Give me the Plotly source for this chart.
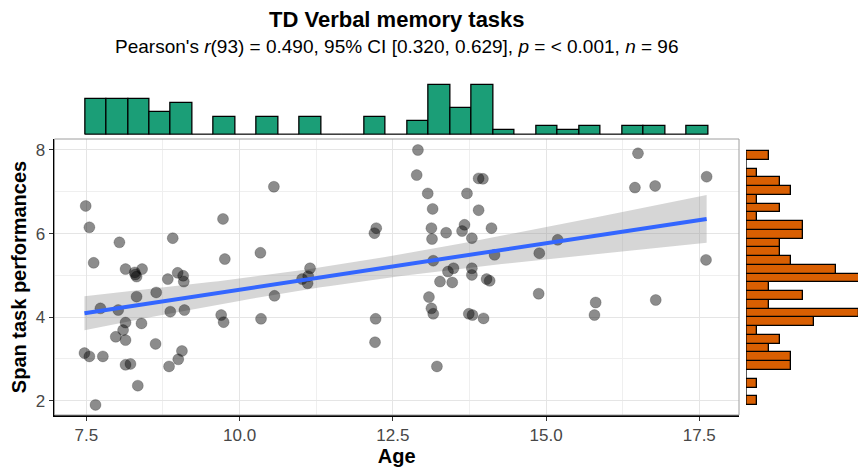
import numpy as np
import plotly.graph_objects as go

# ---------------- data ----------------
age = [7.49, 7.55, 8.04, 8.91, 7.62, 8.14, 8.29, 8.32, 8.41, 8.30,
       8.83, 8.99, 9.08, 9.09, 9.73, 9.76, 10.56, 10.34, 8.32, 8.64,
       7.73, 8.02, 8.87, 9.10, 9.70, 9.74, 10.57, 10.35, 8.14, 8.40,
       8.10, 7.98, 8.14, 8.63, 7.47, 7.55, 7.77, 8.14, 8.22, 8.85,
       9.00, 9.06, 8.34, 7.65,
       11.15, 11.02, 11.11, 11.12, 12.23, 12.20, 12.22, 12.21, 12.91, 12.89,
       13.07, 13.15, 13.13, 13.14, 13.37, 13.67, 13.63, 13.79, 13.71, 13.90,
       13.97, 13.90, 14.11, 14.16, 13.16, 13.40, 13.49, 13.27, 13.47, 13.79,
       13.79, 14.03, 14.08, 13.09, 13.13, 13.16, 13.74, 13.80, 13.98, 13.22,
       16.50, 16.45, 16.78, 17.62, 15.19, 14.89, 14.88, 15.81, 15.79, 16.79,
       17.61]
span = [6.66, 6.15, 5.79, 5.89, 5.30, 5.15, 5.07, 4.97, 5.15, 5.02,
        4.91, 5.06, 4.99, 4.85, 6.35, 5.39, 7.12, 5.54, 4.49, 4.59,
        4.21, 4.17, 4.13, 4.17, 4.05, 3.88, 4.51, 3.96, 3.87, 3.85,
        3.69, 3.53, 3.45, 3.36, 3.14, 3.06, 3.06, 2.86, 2.88, 2.82,
        2.99, 3.19, 2.36, 1.90,
        5.17, 4.91, 4.81, 4.98, 6.13, 6.01, 3.96, 3.40, 8.00, 7.40,
        6.96, 6.59, 6.13, 5.87, 6.02, 6.21, 6.06, 5.89, 6.96, 7.32,
        7.31, 6.56, 6.13, 5.49, 5.35, 5.09, 5.17, 4.85, 4.83, 5.17,
        5.01, 4.91, 4.87, 4.48, 4.21, 4.08, 4.08, 4.05, 3.97, 2.82,
        7.92, 7.10, 7.14, 7.36, 5.85, 5.53, 4.56, 4.35, 4.05, 4.41,
        5.37]

# marginal histogram of Age (29 bins)
age_bin_start = 7.479
age_bin_width = 0.3506
age_counts = [8, 8, 8, 5, 7, 0, 4, 0, 4, 0, 4, 0, 0, 4, 0, 3, 11, 6, 11, 1,
              0, 2, 1, 2, 0, 2, 2, 0, 2]

# marginal histogram of span (29 bins, bottom to top)
span_bin_start = 1.897
span_bin_width = 0.2095
span_counts = [1, 0, 1, 0, 4, 4, 2, 3, 1, 6, 10, 2, 5, 2, 11, 8, 4, 3, 3, 5,
               5, 1, 3, 1, 4, 3, 1, 0, 2]

x_ticks = [7.5, 10.0, 12.5, 15.0, 17.5]
x_tick_labels = ["7.5", "10.0", "12.5", "15.0", "17.5"]
y_ticks = [2, 4, 6, 8]

title = "<b>TD Verbal memory tasks</b>"
subtitle = ("Pearson's <i>r</i>(93) = 0.490, 95% CI [0.320, 0.629], "
            "<i>p</i> = < 0.001, <i>n</i> = 96")

# ---------------- linear fit with 95% CI ----------------
xa = np.array(age)
ya = np.array(span)
n = len(xa)
b1, b0 = np.polyfit(xa, ya, 1)
resid = ya - (b0 + b1 * xa)
s = np.sqrt(np.sum(resid ** 2) / (n - 2))
sxx = np.sum((xa - xa.mean()) ** 2)
t975 = 1.986
xf = np.linspace(xa.min(), xa.max(), 80)
yf = b0 + b1 * xf
se = s * np.sqrt(1.0 / n + (xf - xa.mean()) ** 2 / sxx)
lo = yf - t975 * se
hi = yf + t975 * se

# ---------------- geometry (page has an 8px body margin) ----------------
OFF = 8
W, H = 866 - OFF, 473 - OFF


def fx(px):
    return (px - OFF) / W


def fy(py):
    return (473 - py) / H


px_l, px_r = 54.5, 739.0
py_t, py_b = 139.0, 415.0
xdom = [fx(px_l), fx(px_r)]
ydom = [fy(py_b), fy(py_t)]
top_dom = [fy(134.5), fy(80)]
right_dom = [fx(746), 1.0]

xr = [6.981, 18.148]
yr = [1.658, 8.263]

FONT = "Liberation Sans, Arial, sans-serif"

fig = go.Figure()

# CI band
fig.add_trace(go.Scatter(
    x=np.concatenate([xf, xf[::-1]]), y=np.concatenate([hi, lo[::-1]]),
    fill="toself", fillcolor="rgba(153,153,153,0.4)", line=dict(width=0),
    hoverinfo="skip", showlegend=False, xaxis="x", yaxis="y"))

# points
fig.add_trace(go.Scatter(
    x=age, y=span, mode="markers",
    marker=dict(size=11, color="rgba(0,0,0,0.45)",
                line=dict(width=0.8, color="rgba(0,0,0,0.25)")),
    showlegend=False, xaxis="x", yaxis="y"))

# regression line
fig.add_trace(go.Scatter(
    x=xf, y=yf, mode="lines", line=dict(color="#3366FF", width=4),
    showlegend=False, xaxis="x", yaxis="y"))

# top marginal histogram
age_centers = [age_bin_start + (i + 0.5) * age_bin_width for i in range(len(age_counts))]
fig.add_trace(go.Bar(
    x=age_centers, y=age_counts, width=age_bin_width,
    marker=dict(color="#1B9E77", line=dict(color="black", width=1.3)),
    showlegend=False, xaxis="x2", yaxis="y2"))

# right marginal histogram
span_centers = [span_bin_start + (i + 0.5) * span_bin_width for i in range(len(span_counts))]
fig.add_trace(go.Bar(
    y=span_centers, x=span_counts, width=span_bin_width, orientation="h",
    marker=dict(color="#D95F02", line=dict(color="black", width=1.3)),
    showlegend=False, xaxis="x3", yaxis="y3"))

tick_font = dict(family=FONT, size=17, color="#474747")
title_font = dict(family=FONT, size=20, color="black")

fig.update_layout(
    width=W, height=H,
    margin=dict(l=0, r=0, t=0, b=0),
    paper_bgcolor="white", plot_bgcolor="white",
    bargap=0,
    xaxis=dict(domain=xdom, range=xr, anchor="y",
               tickvals=x_ticks, ticktext=x_tick_labels, tickfont=tick_font,
               showline=True, linecolor="black", linewidth=2,
               ticks="outside", ticklen=4, tickcolor="#333333", tickwidth=1,
               showgrid=True, gridcolor="#E5E5E5", gridwidth=1,
               minor=dict(dtick=1.25, tick0=7.5, showgrid=True, gridcolor="#EFEFEF", gridwidth=1),
               zeroline=False,
               title=dict(text="<b>Age</b>", font=title_font, standoff=3)),
    yaxis=dict(domain=ydom, range=yr, anchor="x",
               tickvals=y_ticks, tickfont=tick_font,
               showline=True, linecolor="black", linewidth=2,
               ticks="outside", ticklen=4, tickcolor="#333333", tickwidth=1,
               showgrid=True, gridcolor="#E5E5E5", gridwidth=1,
               minor=dict(dtick=1, tick0=2, showgrid=True, gridcolor="#EFEFEF", gridwidth=1),
               zeroline=False,
               title=dict(text="<b>Span task performances</b>", font=title_font, standoff=6)),
    xaxis2=dict(domain=xdom, range=xr, anchor="y2", visible=False),
    yaxis2=dict(domain=top_dom, range=[0, 12.11], anchor="x2", visible=False),
    xaxis3=dict(domain=right_dom, range=[0, 10.62], anchor="y3", visible=False),
    yaxis3=dict(domain=ydom, range=yr, anchor="x3", visible=False),
    shapes=[
        dict(type="rect", xref="paper", yref="paper",
             x0=xdom[0], x1=xdom[1], y0=ydom[0], y1=ydom[1],
             line=dict(color="#9E9E9E", width=1), layer="above"),
        dict(type="line", xref="x2", yref="y2",
             x0=age_bin_start, x1=age_bin_start + len(age_counts) * age_bin_width,
             y0=0, y1=0, line=dict(color="black", width=1.3)),
        dict(type="line", xref="x3", yref="y3",
             y0=span_bin_start, y1=span_bin_start + len(span_counts) * span_bin_width,
             x0=0, x1=0, line=dict(color="black", width=1.3)),
    ],
    annotations=[
        dict(text=title, xref="paper", yref="paper",
             x=(xdom[0] + xdom[1]) / 2, y=fy(20), xanchor="center", yanchor="middle",
             showarrow=False, font=dict(family=FONT, size=22, color="black")),
        dict(text=subtitle, xref="paper", yref="paper",
             x=(xdom[0] + xdom[1]) / 2, y=fy(47), xanchor="center", yanchor="middle",
             showarrow=False, font=dict(family=FONT, size=19, color="black")),
    ],
)

fig.write_html("out.html")
